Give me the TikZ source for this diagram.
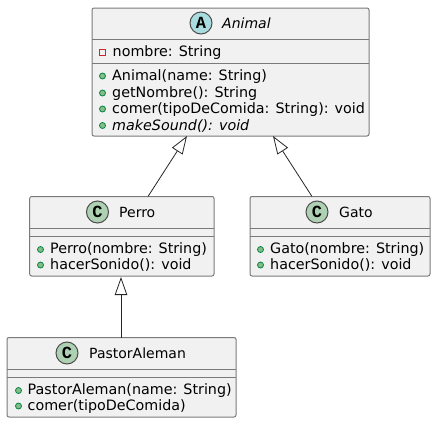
\documentclass[tikz,border=0pt]{standalone}
\usepackage{fontspec}
\setmainfont{DejaVu Sans}
\newfontfamily\spotfont{Liberation Mono}
\usetikzlibrary{arrows.meta}
\definecolor{boxfill}{HTML}{F1F1F1}
\definecolor{boxline}{HTML}{7A7A7A}
\definecolor{spotA}{HTML}{A9DCDF}
\definecolor{spotC}{HTML}{ADD1B2}
\definecolor{pubfill}{HTML}{84BE84}
\definecolor{publine}{HTML}{038048}
\definecolor{privline}{HTML}{C82930}
\newcommand{\bodysize}{\fontsize{14.3}{16}\selectfont}
\tikzset{
  x=1pt,y=-1pt,
  classbox/.style={draw=boxline,fill=boxfill,line width=1pt,rounded corners=2pt},
  sepline/.style={draw=boxline,line width=1pt},
  spot/.style={circle,draw=black!70,line width=1pt,inner sep=0pt,minimum size=22pt,font=\spotfont\bfseries\fontsize{17}{17}\selectfont},
  title/.style={anchor=base west,inner sep=0pt,font=\fontsize{14}{16}\selectfont},
  member/.style={anchor=base west,inner sep=0pt,font=\bodysize},
  pub/.style={circle,draw=publine,fill=pubfill,line width=.8pt,inner sep=0pt,minimum size=6pt},
  priv/.style={rectangle,draw=privline,fill=none,line width=.8pt,inner sep=0pt,minimum size=6pt},
  inherit/.style={draw=black!85,line width=.8pt,-{Triangle[open,fill=white,length=18pt,width=12.5pt,line width=.8pt]}}
}
\begin{document}
\begin{tikzpicture}
\useasboundingbox (0,0) rectangle (436,423);
% Animal
\draw[classbox] (92,8) rectangle (369,136);
\draw[sepline] (92,39.5)--(369,39.5) (92,63.5)--(369,63.5);
\coordinate (animalL) at (187,136);
\coordinate (animalR) at (273,136);
\node[spot,fill=spotA] (sa) at (201,23) {A};
\node[title,font=\fontsize{14}{16}\selectfont\itshape] (ta) at (222,28) {Animal};
\node[priv] (p0) at (102.5,52) {};
\node[member] (m0) at (112.5,56) {nombre: String};
\node[pub] (p1) at (102.5,76) {};
\node[member] (m1) at (112,80) {Animal(name: String)};
\node[pub] (p2) at (102.5,93) {};
\node[member] (m2) at (112,97) {getNombre(): String};
\node[pub] (p3) at (102.5,109) {};
\node[member] (m3) at (112,113) {comer(tipoDeComida: String): void};
\node[pub] (p4) at (102.5,125.5) {};
\node[member,font=\bodysize\itshape] (m4) at (112,130) {makeSound(): void};
% Perro
\draw[classbox] (29.7,196.5) rectangle (214,276);
\draw[sepline] (29.7,228)--(214,228) (29.7,236)--(214,236);
\coordinate (perroT) at (148,196.5);
\coordinate (perroB) at (121,277);
\node[spot,fill=spotC] (sp) at (97.5,212) {C};
\node[title] (tp) at (119,217) {Perro};
\node[pub] (q1) at (40.5,249.5) {};
\node[member] (n1) at (50,253.5) {Perro(nombre: String)};
\node[pub] (q2) at (40.5,265) {};
\node[member] (n2) at (50,269) {hacerSonido(): void};
% Gato
\draw[classbox] (250,196.5) rectangle (430,276);
\draw[sepline] (250,228)--(430,228) (250,236)--(430,236);
\coordinate (gatoT) at (312,196.5);
\node[spot,fill=spotC] (sg) at (317,212) {C};
\node[title] (tg) at (339,217) {Gato};
\node[pub] (r1) at (260.5,249.5) {};
\node[member] (o1) at (270,253.5) {Gato(nombre: String)};
\node[pub] (r2) at (260.5,265) {};
\node[member] (o2) at (270,269) {hacerSonido(): void};
% PastorAleman
\draw[classbox] (7,337.5) rectangle (236,417);
\draw[sepline] (7,369)--(236,369) (7,377)--(236,377);
\coordinate (pastorT) at (121,337.5);
\node[spot,fill=spotC] (sh) at (67,353) {C};
\node[title] (th) at (89,358) {PastorAleman};
\node[pub] (s1) at (18.5,390.5) {};
\node[member] (u1) at (27.5,394.5) {PastorAleman(name: String)};
\node[pub] (s2) at (18.5,406) {};
\node[member] (u2) at (27.5,410) {comer(tipoDeComida)};
% connectors
\draw[inherit] (perroT) -- (animalL);
\draw[inherit] (gatoT) -- (animalR);
\draw[inherit] (pastorT) -- (perroB);
\end{tikzpicture}
\end{document}
